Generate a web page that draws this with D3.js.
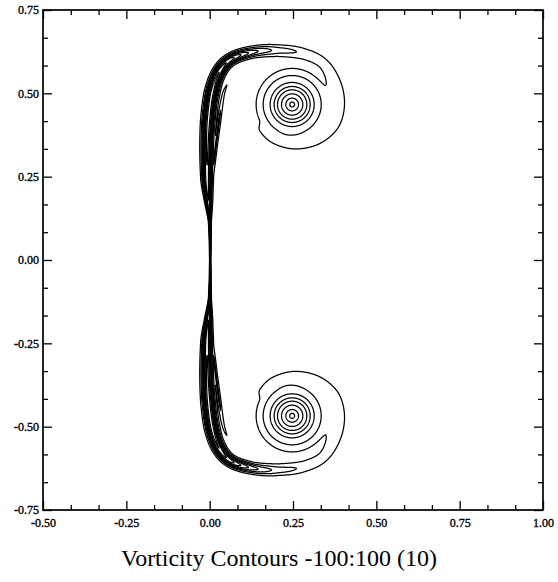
<!DOCTYPE html>
<html><head><meta charset="utf-8">
<script src="https://cdn.jsdelivr.net/npm/d3@7"></script>
<style>
body{margin:0;background:#fff}
svg text{font-family:"Liberation Serif","Times New Roman",serif;fill:#000}
</style>
</head><body>
<svg id="chart" width="558" height="582"></svg>
<script>
// ---------------- data ----------------
const xTicks = [-0.50, -0.25, 0.00, 0.25, 0.50, 0.75, 1.00];
const yTicks = [-0.75, -0.50, -0.25, 0.00, 0.25, 0.50, 0.75];
const xTickLabels = ["-0.50", "-0.25", "0.00", "0.25", "0.50", "0.75", "1.00"];
const yTickLabels = ["-0.75", "-0.50", "-0.25", "0.00", "0.25", "0.50", "0.75"];
const minorPerMajor = 3;
const contourLevels = [10, 20, 30, 40, 50, 60, 70, 80, 90, 100]; // drawn as +/- (−100:100 step 10)
const titleText = "Vorticity Contours -100:100 (10)";

// upper vortex core (the lower one is its mirror image with opposite sign)
const coreCenter = [0.247, 0.467];
const coreRadius = [0, 0.0075, 0.019, 0.032, 0.044, 0.054, 0.066, 0.087, 0.108, 0.14, 0.18];
const coreOmega  = [84, 80, 70, 60, 50, 40, 30, 20, 10, 4, 0];

// vortex sheet: stem along x≈0 and the arm rolled round the core (centre line)
const armX = [0.001, 0.001, 0.000, -0.004, -0.008, -0.008, -0.004, 0.007, 0.028, 0.064, 0.127, 0.205, 0.283, 0.343, 0.379, 0.388, 0.370, 0.319, 0.253, 0.193, 0.160];
const armY = [0.000, 0.060, 0.120, 0.180, 0.240, 0.330, 0.420, 0.504, 0.564, 0.603, 0.624, 0.630, 0.621, 0.591, 0.531, 0.465, 0.405, 0.363, 0.351, 0.366, 0.392];
const armOmega = [50, 60, 70, 80, 88, 92, 95, 95, 90, 75, 45, 24, 15, 13, 12, 12, 12, 11, 10, 8, 5];
const armWidth = [0.0015, 0.002, 0.0035, 0.009, 0.013, 0.015, 0.016, 0.016, 0.015, 0.014, 0.015, 0.017, 0.019, 0.020, 0.022, 0.024, 0.024, 0.022, 0.020, 0.018, 0.016];

// short inner branch beside the stem
const branchX = [0.001, 0.013, 0.028, 0.040, 0.052];
const branchY = [0.180, 0.300, 0.420, 0.495, 0.528];
const branchOmega = [5, 22, 22, 16, 9];
const branchWidth = [0.004, 0.005, 0.006, 0.005, 0.004];

// ---------------- layout ----------------
const svg = d3.select("#chart");
const L = 43, R = 543, T = 10, B = 510;
const xS = d3.scaleLinear([-0.5, 1.0], [L, R]);
const yS = d3.scaleLinear([-0.75, 0.75], [B, T]);
const kpx = (R - L) / 1.5;

// ---------------- field on a grid ----------------
const res = 0.001, gx0 = -0.08, gx1 = 0.45, gyTop = 0.7005;
const cols = Math.round((gx1 - gx0) / res) + 1;
const rows = 1402, half = 701;
const U = new Float64Array(cols * half);   // upper-half core field
const F = new Float64Array(cols * half);   // sheet contribution (max)
const coreProfile = d3.scaleLinear(coreRadius, coreOmega).clamp(true);

for (let j = 0; j < half; j++) {
  const y = gyTop - j * res;
  for (let i = 0; i < cols; i++) {
    const x = gx0 + i * res;
    const r = Math.hypot(x - coreCenter[0], y - coreCenter[1]);
    if (r < coreRadius[coreRadius.length - 1]) U[j * cols + i] = coreProfile(r);
  }
}

function catmull(p0, p1, p2, p3, t) {
  const t2 = t * t, t3 = t2 * t;
  return 0.5 * (2 * p1 + (-p0 + p2) * t + (2 * p0 - 5 * p1 + 4 * p2 - p3) * t2 + (-p0 + 3 * p1 - 3 * p2 + p3) * t3);
}
function splatSheet(xs, ys, as, ws) {
  const n = xs.length;
  for (let s = 0; s < n - 1; s++) {
    const a = Math.max(s - 1, 0), d = Math.min(s + 2, n - 1);
    const len = Math.hypot(xs[s + 1] - xs[s], ys[s + 1] - ys[s]);
    const steps = Math.max(2, Math.ceil(len / 0.0004));
    for (let k = 0; k <= steps; k++) {
      const t = k / steps;
      const px = catmull(xs[a], xs[s], xs[s + 1], xs[d], t);
      const py = catmull(ys[a], ys[s], ys[s + 1], ys[d], t);
      const A = as[s] + (as[s + 1] - as[s]) * t;
      const w = ws[s] + (ws[s + 1] - ws[s]) * t;
      const Rr = 3 * w;
      const i0 = Math.max(0, Math.ceil((px - Rr - gx0) / res)), i1 = Math.min(cols - 1, Math.floor((px + Rr - gx0) / res));
      const j0 = Math.max(0, Math.ceil((gyTop - (py + Rr)) / res)), j1 = Math.min(half - 1, Math.floor((gyTop - (py - Rr)) / res));
      for (let j = j0; j <= j1; j++) {
        const dy = gyTop - j * res - py;
        for (let i = i0; i <= i1; i++) {
          const dx = gx0 + i * res - px;
          const v = A * Math.exp(-(dx * dx + dy * dy) / (w * w));
          const idx = j * cols + i;
          if (v > F[idx]) F[idx] = v;
        }
      }
    }
  }
}
splatSheet(armX, armY, armOmega, armWidth);
splatSheet(branchX, branchY, branchOmega, branchWidth);

const values = new Float64Array(cols * rows);
for (let j = 0; j < rows; j++) {
  const up = j < half;
  const hj = up ? j : rows - 1 - j;
  const sgn = up ? 1 : -1;
  for (let i = 0; i < cols; i++) {
    const idx = hj * cols + i;
    values[j * cols + i] = sgn * (U[idx] + F[idx]);
  }
}
const negValues = values.map(v => -v);

const contourGen = d3.contours().size([cols, rows]).thresholds(contourLevels);
const posContours = contourGen(values);
const negContours = contourGen(negValues);

const proj = d3.geoIdentity().scale(res * kpx).translate([xS(gx0), yS(gyTop)]);
const path = d3.geoPath(proj);

const g = svg.append("g");
g.selectAll("path.pos").data(posContours).join("path")
  .attr("class", "pos").attr("d", path)
  .attr("fill", "none").attr("stroke", "#000").attr("stroke-width", 1.25).attr("stroke-linejoin", "round");
g.selectAll("path.neg").data(negContours).join("path")
  .attr("class", "neg").attr("d", path)
  .attr("fill", "none").attr("stroke", "#000").attr("stroke-width", 1.25).attr("stroke-linejoin", "round");

// ---------------- axes ----------------
function minors(majors) {
  const out = [];
  for (let k = 0; k < majors.length - 1; k++)
    for (let m = 1; m < minorPerMajor; m++)
      out.push(majors[k] + (majors[k + 1] - majors[k]) * m / minorPerMajor);
  return out;
}
const xLab = d => xTickLabels[xTicks.indexOf(d)];
const yLab = d => yTickLabels[yTicks.indexOf(d)];
function styleAxis(sel) {
  sel.select(".domain").remove();
  sel.selectAll(".tick line").attr("stroke", "#000").attr("stroke-width", 1.3);
  sel.selectAll(".tick text").style("font-size", "12px").attr("fill", "#000")
    .attr("stroke", "#000").attr("stroke-width", 0.35);
}
svg.append("g").attr("transform", `translate(0,${B})`)
  .call(d3.axisBottom(xS).tickValues(xTicks).tickSize(-9).tickPadding(8).tickFormat(xLab)).call(styleAxis);
svg.append("g").attr("transform", `translate(0,${B})`)
  .call(d3.axisBottom(xS).tickValues(minors(xTicks)).tickSize(-5).tickFormat("")).call(styleAxis);
svg.append("g").attr("transform", `translate(0,${T})`)
  .call(d3.axisTop(xS).tickValues(xTicks).tickSize(-9).tickFormat("")).call(styleAxis);
svg.append("g").attr("transform", `translate(0,${T})`)
  .call(d3.axisTop(xS).tickValues(minors(xTicks)).tickSize(-5).tickFormat("")).call(styleAxis);
svg.append("g").attr("transform", `translate(${L},0)`)
  .call(d3.axisLeft(yS).tickValues(yTicks).tickSize(-9).tickPadding(4).tickFormat(yLab)).call(styleAxis);
svg.append("g").attr("transform", `translate(${L},0)`)
  .call(d3.axisLeft(yS).tickValues(minors(yTicks)).tickSize(-5).tickFormat("")).call(styleAxis);
svg.append("g").attr("transform", `translate(${R},0)`)
  .call(d3.axisRight(yS).tickValues(yTicks).tickSize(-9).tickFormat("")).call(styleAxis);
svg.append("g").attr("transform", `translate(${R},0)`)
  .call(d3.axisRight(yS).tickValues(minors(yTicks)).tickSize(-5).tickFormat("")).call(styleAxis);

svg.append("rect").attr("x", L).attr("y", T).attr("width", R - L).attr("height", B - T)
  .attr("fill", "none").attr("stroke", "#000").attr("stroke-width", 1.7);

svg.append("text").attr("x", 279).attr("y", 566).attr("text-anchor", "middle")
  .style("font-size", "24px").text(titleText);
</script>
</body></html>
